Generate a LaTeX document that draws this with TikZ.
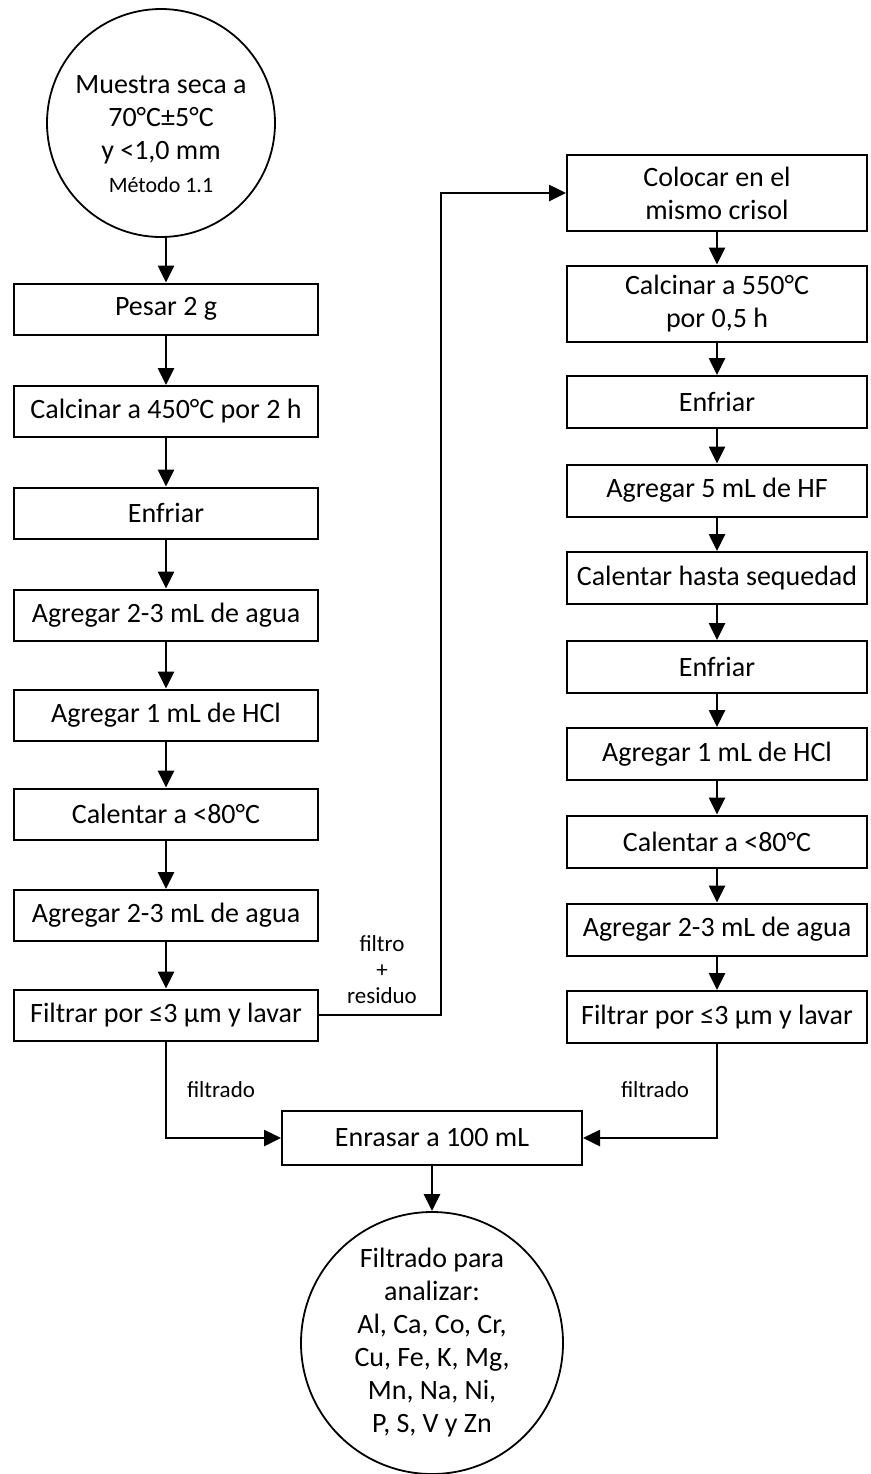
\documentclass[tikz,border=0pt]{standalone}
\usepackage{fontspec}
\setmainfont{Carlito}
\usetikzlibrary{arrows.meta,calc}
\begin{document}
\begin{tikzpicture}[x=0.5pt,y=-0.5pt,
  every node/.style={font=\fontsize{14}{16.5}\selectfont},
  lbox/.style={draw,line width=1pt,minimum width=152pt,minimum height=25.5pt,inner sep=0pt,align=center},
  rbox/.style={draw,line width=1pt,minimum width=150pt,minimum height=26pt,inner sep=0pt,align=center},
  tall/.style={minimum height=38pt},
  disc/.style={draw,circle,line width=0.9pt,inner sep=0pt,align=center},
  arr/.style={line width=1.3pt,-{Triangle[width=8pt,length=8.5pt]}},
  lbl/.style={font=\fontsize{11.5}{13}\selectfont,align=center}
]
\useasboundingbox (0,0) rectangle (871,1474);

% start
\node[disc,minimum size=114pt] (start) at (161,123)
  {\rule{0pt}{20pt}Muestra seca a\\70°C±5°C\\y <1,0 mm\\{\fontsize{11}{13}\selectfont Método 1.1}};

% left column
\node[lbox] (l1) at (166,309)    {Pesar 2 g};
\node[lbox] (l2) at (166,411.5)  {Calcinar a 450°C por 2 h};
\node[lbox] (l3) at (166,513)    {Enfriar};
\node[lbox] (l4) at (166,615)    {Agregar 2-3 mL de agua};
\node[lbox] (l5) at (166,715)    {Agregar 1 mL de HCl};
\node[lbox] (l6) at (166,814)    {Calentar a <80°C};
\node[lbox] (l7) at (166,915.5)  {Agregar 2-3 mL de agua};
\node[lbox] (l8) at (166,1015)   {Filtrar por ≤3 µm y lavar};

% right column
\node[rbox,tall] (r1) at (717,193)    {Colocar en el\\mismo crisol};
\node[rbox,tall] (r2) at (717,303.5)  {Calcinar a 550°C\\por 0,5 h};
\node[rbox] (r3)  at (717,402)   {Enfriar};
\node[rbox] (r4)  at (717,490.5) {Agregar 5 mL de HF};
\node[rbox] (r5)  at (717,578)   {Calentar hasta sequedad};
\node[rbox] (r6)  at (717,667)   {Enfriar};
\node[rbox] (r7)  at (717,754)   {Agregar 1 mL de HCl};
\node[rbox] (r8)  at (717,841.5) {Calentar a <80°C};
\node[rbox] (r9)  at (717,929.5) {Agregar 2-3 mL de agua};
\node[rbox] (r10) at (717,1017)  {Filtrar por ≤3 µm y lavar};

% merge and result
\node[lbox,minimum width=150pt,minimum height=27pt] (mix) at (432,1138) {Enrasar a 100 mL};
\node[disc,minimum size=131pt] (final) at (432,1343)
  {Filtrado para\\analizar:\\Al, Ca, Co, Cr,\\Cu, Fe, K, Mg,\\Mn, Na, Ni,\\P, S, V y Zn};

% labels
\node[lbl] (lres) at (382,970) {filtro\\+\\residuo};
\node[lbl] (lfa) at (221,1090) {filtrado};
\node[lbl] (lfb) at (655,1090) {filtrado};

\coordinate (bend) at (441,0);

% connectors
\draw[arr] (start.south -| l1.north) -- (l1.north);
\foreach \a/\b in {l1/l2,l2/l3,l3/l4,l4/l5,l5/l6,l6/l7,l7/l8,
                   r1/r2,r2/r3,r3/r4,r4/r5,r5/r6,r6/r7,r7/r8,r8/r9,r9/r10}
  \draw[arr] (\a.south) -- (\b.north);
\draw[arr] (l8.east) -| (bend |- r1.west) -- (r1.west);
\draw[arr] (l8.south) |- (mix.west);
\draw[arr] (r10.south) |- (mix.east);
\draw[arr] (mix.south) -- (final.north);
\end{tikzpicture}
\end{document}
